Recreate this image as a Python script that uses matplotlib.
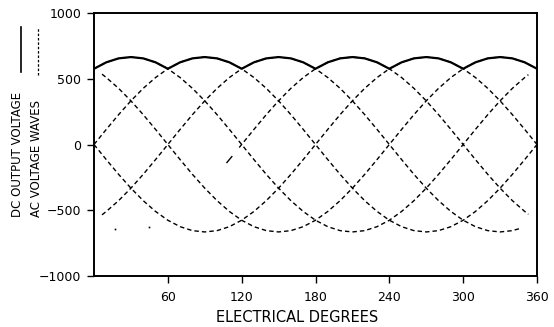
import matplotlib
matplotlib.use("Agg")
import matplotlib.pyplot as plt
from matplotlib.lines import Line2D
import numpy as np

# ---------------- data (volts vs electrical degrees) -------------
deg = [0, 10, 20, 30, 40, 50, 60, 70, 80, 90, 100, 110, 120, 130, 140, 150, 160, 170, 180,
       190, 200, 210, 220, 230, 240, 250, 260, 270, 280, 290, 300, 310, 320, 330, 340, 350, 360]

# wave peaking at 90 deg
wave_p90 = [0, 115, 227, 332, 427, 509, 576, 625, 655, 665, 655, 625, 576, 509, 427, 332, 227, 115, 0,
            -115, -227, -332, -427, -509, -576, -625, -655, -665, -655, -625, -576, -509, -427, -332, -227, -115, 0]
# wave peaking at 270 deg
wave_p270 = [0, -115, -227, -332, -427, -509, -576, -625, -655, -665, -655, -625, -576, -509, -427, -332, -227, -115, 0,
             115, 227, 332, 427, 509, 576, 625, 655, 665, 655, 625, 576, 509, 427, 332, 227, 115, 0]
# wave peaking at 30 deg (drawn 0 .. 353)
wave_p30_x = deg[:36] + [353]
wave_p30 = [576, 625, 655, 665, 655, 625, 576, 509, 427, 332, 227, 115, 0, -115, -227, -332, -427, -509,
            -576, -625, -655, -665, -655, -625, -576, -509, -427, -332, -227, -115, 0, 115, 227, 332, 427, 509, 531]
# wave peaking at 330 deg (drawn 6.5 .. 360)
wave_p330_x = [6.5] + deg[1:]
wave_p330 = [535, 509, 427, 332, 227, 115, 0, -115, -227, -332, -427, -509, -576, -625, -655, -665, -655, -625,
             -576, -509, -427, -332, -227, -115, 0, 115, 227, 332, 427, 509, 576, 625, 655, 665, 655, 625, 576]
# wave peaking at 150 deg (drawn 6.5 .. 346)
wave_p150_x = [6.5] + deg[1:35] + [346]
wave_p150 = [-535, -509, -427, -332, -227, -115, 0, 115, 227, 332, 427, 509, 576, 625, 655, 665, 655, 625,
             576, 509, 427, 332, 227, 115, 0, -115, -227, -332, -427, -509, -576, -625, -655, -665, -655, -639]
# wave peaking at 210 deg (drawn 118 .. 353, plus a few stray specks)
wave_p210_x = [118] + deg[12:36] + [353]
wave_p210 = [-23, 0, 115, 227, 332, 427, 509, 576, 625, 655, 665, 655, 625, 576, 509, 427, 332, 227, 115, 0,
             -115, -227, -332, -427, -509, -531]
speck_x = [17, 45]
speck_y = [-645, -630]
dash_x = [108, 112]
dash_y = [-137, -92]

# DC output voltage (upper envelope)
dc_out = [576, 625, 655, 665, 655, 625, 576, 625, 655, 665, 655, 625, 576, 625, 655, 665, 655, 625, 576,
          625, 655, 665, 655, 625, 576, 625, 655, 665, 655, 625, 576, 625, 655, 665, 655, 625, 576]

xticks = [60, 120, 180, 240, 300, 360]
yticks = [-1000, -500, 0, 500, 1000]

# ---------------- figure ----------------
plt.rcParams['font.family'] = ['DejaVu Sans']
fig = plt.figure(figsize=(5.54, 3.27), dpi=100)
ax = fig.add_axes([94/554, 1-276/327, (537-94)/554, (276-13)/327])

dstyle = dict(color='black', lw=1.0, linestyle=(0, (3.2, 2.2)))
ax.plot(deg, wave_p90, **dstyle)
ax.plot(deg, wave_p270, **dstyle)
ax.plot(wave_p30_x, wave_p30, **dstyle)
ax.plot(wave_p330_x, wave_p330, **dstyle)
ax.plot(wave_p150_x, wave_p150, **dstyle)
ax.plot(wave_p210_x, wave_p210, **dstyle)
ax.plot(speck_x, speck_y, 's', color='black', ms=1.2, mew=0)
ax.plot(dash_x, dash_y, color='black', lw=1.0)
ax.plot(deg, dc_out, color='black', lw=1.6, solid_joinstyle='round')

ax.set_xlim(0, 360)
ax.set_ylim(-1000, 1000)
ax.set_xticks(xticks)
ax.set_yticks(yticks)
ax.set_yticklabels([str(v).replace('-', '\u2212') for v in yticks])
ax.tick_params(axis='both', direction='out', length=5, width=1.0, labelsize=9, colors='black')
ax.tick_params(axis='x', pad=6)
ax.tick_params(axis='y', pad=4)
for s in ax.spines.values():
    s.set_linewidth(1.4)
    s.set_color('black')

fig.text(297/554, 1-318/327, 'ELECTRICAL DEGREES', ha='center', va='center', fontsize=10.5)

# y-axis legend-style labels
fig.text(18/554, 1-217/327, 'DC OUTPUT VOLTAGE', rotation=90, ha='center', va='bottom', fontsize=8.5)
fig.text(36/554, 1-217/327, 'AC VOLTAGE WAVES', rotation=90, ha='center', va='bottom', fontsize=8.5)
fig.add_artist(Line2D([20.5/554, 20.5/554], [1-72/327, 1-27/327], color='black', lw=1.2,
                      transform=fig.transFigure))
fig.add_artist(Line2D([38/554, 38/554], [1-75/327, 1-27/327], color='black', lw=0.9,
                      linestyle=(0, (2, 1.5)), transform=fig.transFigure))

fig.savefig('out.png', dpi=100, facecolor='white')
